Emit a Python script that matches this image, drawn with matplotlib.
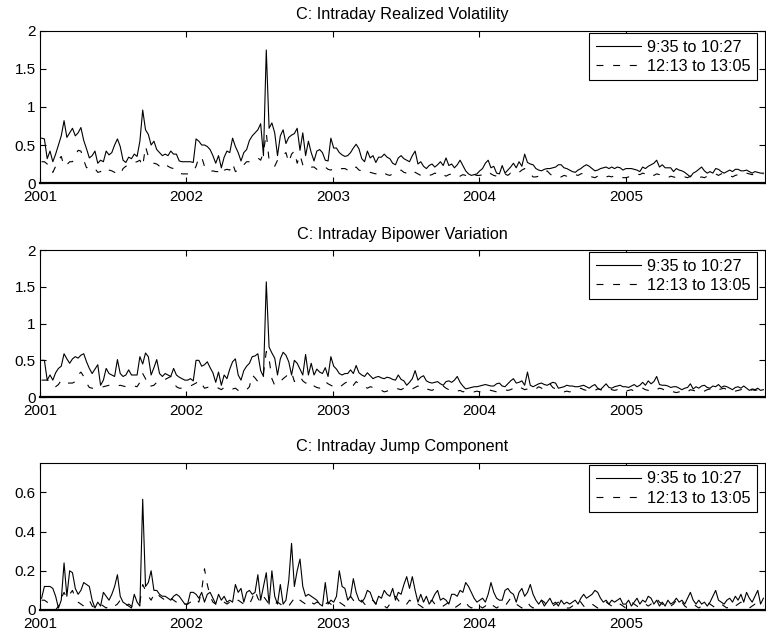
import numpy as np
import pandas as pd
import matplotlib
matplotlib.use('Agg')
import matplotlib.pyplot as plt
import matplotlib.dates as mdates

plt.rcParams['font.family'] = ['Liberation Sans', 'DejaVu Sans']
plt.rcParams['font.size'] = 11
plt.rcParams['lines.scale_dashes'] = False

# weekly observations, Jan 2001 - Dec 2005
weeks = pd.date_range('2001-01-05', periods=258, freq='W-FRI')
years = [2001, 2002, 2003, 2004, 2005]
labels = ['9:35 to 10:27', '12:13 to 13:05']

# realized volatility
rv_open = [0.59, 0.58, 0.32, 0.42, 0.28, 0.38, 0.50, 0.62, 0.82, 0.60, 0.66, 0.72, 0.62, 0.66, 0.73, 0.56, 0.45, 0.33, 0.36, 0.42,
           0.26, 0.30, 0.28, 0.42, 0.37, 0.40, 0.50, 0.58, 0.48, 0.30, 0.27, 0.34, 0.32, 0.38, 0.35, 0.55, 0.96, 0.70, 0.64, 0.50,
           0.55, 0.44, 0.40, 0.36, 0.38, 0.36, 0.42, 0.38, 0.38, 0.29, 0.28, 0.28,
           0.28, 0.28, 0.27, 0.58, 0.55, 0.50, 0.50, 0.48, 0.44, 0.36, 0.26, 0.36, 0.20, 0.34, 0.42, 0.40, 0.59, 0.48, 0.40, 0.29,
           0.40, 0.44, 0.56, 0.62, 0.66, 0.70, 0.78, 0.36, 1.75, 0.72, 0.79, 0.66, 0.36, 0.62, 0.70, 0.52, 0.60, 0.63, 0.65, 0.72,
           0.43, 0.66, 0.36, 0.55, 0.40, 0.29, 0.42, 0.44, 0.40, 0.30, 0.29, 0.59,
           0.46, 0.46, 0.40, 0.37, 0.35, 0.36, 0.40, 0.46, 0.51, 0.45, 0.32, 0.28, 0.42, 0.33, 0.36, 0.27, 0.34, 0.34, 0.38, 0.34,
           0.32, 0.26, 0.24, 0.33, 0.36, 0.32, 0.30, 0.28, 0.36, 0.42, 0.25, 0.28, 0.22, 0.19, 0.23, 0.25, 0.21, 0.24, 0.28, 0.23,
           0.33, 0.23, 0.25, 0.20, 0.24, 0.30, 0.23, 0.16, 0.12, 0.10, 0.11, 0.12,
           0.16, 0.19, 0.26, 0.30, 0.20, 0.22, 0.13, 0.12, 0.23, 0.13, 0.17, 0.21, 0.26, 0.20, 0.28, 0.22, 0.38, 0.27, 0.25, 0.24,
           0.19, 0.17, 0.16, 0.18, 0.19, 0.19, 0.20, 0.21, 0.24, 0.24, 0.20, 0.19, 0.17, 0.15, 0.14, 0.17, 0.19, 0.22, 0.24, 0.22,
           0.19, 0.16, 0.17, 0.19, 0.20, 0.21, 0.19, 0.21, 0.19, 0.21, 0.20, 0.17,
           0.19, 0.19, 0.19, 0.18, 0.17, 0.15, 0.21, 0.19, 0.22, 0.24, 0.26, 0.30, 0.21, 0.24, 0.20, 0.20, 0.20, 0.15, 0.19, 0.17,
           0.16, 0.14, 0.11, 0.08, 0.13, 0.15, 0.18, 0.21, 0.16, 0.13, 0.15, 0.13, 0.19, 0.18, 0.15, 0.13, 0.15, 0.17, 0.15, 0.18,
           0.18, 0.16, 0.16, 0.17, 0.15, 0.13, 0.15, 0.14, 0.13, 0.13]
rv_mid = [0.28, 0.28, 0.25, 0.24, 0.14, 0.22, 0.30, 0.35, 0.22, 0.24, 0.28, 0.28, 0.36, 0.43, 0.42, 0.30, 0.20, 0.22, 0.20, 0.19,
          0.14, 0.15, 0.19, 0.20, 0.17, 0.16, 0.14, 0.13, 0.11, 0.19, 0.22, 0.24, 0.26, 0.27, 0.28, 0.30, 0.22, 0.48, 0.35, 0.30,
          0.26, 0.25, 0.22, 0.21, 0.25, 0.22, 0.20, 0.19, 0.18, 0.13, 0.12, 0.12,
          0.12, 0.14, 0.15, 0.22, 0.34, 0.34, 0.22, 0.17, 0.15, 0.16, 0.15, 0.15, 0.21, 0.17, 0.18, 0.17, 0.26, 0.15, 0.17, 0.19,
          0.24, 0.28, 0.28, 0.30, 0.31, 0.33, 0.30, 0.40, 0.66, 0.30, 0.26, 0.22, 0.30, 0.34, 0.37, 0.40, 0.27, 0.38, 0.42, 0.26,
          0.37, 0.24, 0.20, 0.22, 0.21, 0.21, 0.18, 0.20, 0.19, 0.21, 0.18, 0.17,
          0.19, 0.20, 0.18, 0.19, 0.19, 0.17, 0.15, 0.19, 0.21, 0.17, 0.16, 0.17, 0.15, 0.14, 0.13, 0.12, 0.14, 0.15, 0.13, 0.11,
          0.10, 0.12, 0.14, 0.15, 0.17, 0.14, 0.13, 0.15, 0.17, 0.14, 0.12, 0.10, 0.09, 0.08, 0.10, 0.11, 0.13, 0.12, 0.14, 0.11,
          0.09, 0.11, 0.12, 0.10, 0.08, 0.09, 0.11, 0.10, 0.08, 0.09, 0.11, 0.10,
          0.10, 0.11, 0.13, 0.15, 0.12, 0.10, 0.09, 0.08, 0.11, 0.12, 0.10, 0.13, 0.11, 0.12, 0.14, 0.17, 0.19, 0.14, 0.12, 0.08,
          0.08, 0.09, 0.10, 0.13, 0.16, 0.12, 0.09, 0.08, 0.07, 0.08, 0.10, 0.09, 0.11, 0.12, 0.11, 0.10, 0.12, 0.13, 0.11, 0.09,
          0.08, 0.07, 0.09, 0.11, 0.10, 0.08, 0.09, 0.08, 0.10, 0.09, 0.08, 0.07,
          0.07, 0.08, 0.09, 0.10, 0.12, 0.11, 0.13, 0.12, 0.14, 0.12, 0.10, 0.12, 0.11, 0.09, 0.08, 0.07, 0.09, 0.08, 0.07, 0.06,
          0.07, 0.08, 0.07, 0.09, 0.10, 0.09, 0.07, 0.08, 0.07, 0.09, 0.10, 0.11, 0.12, 0.10, 0.12, 0.13, 0.11, 0.10, 0.08, 0.10,
          0.11, 0.12, 0.14, 0.13, 0.12, 0.11, 0.12, 0.11, 0.12, 0.12]

# bipower variation
bv_open = [0.50, 0.50, 0.23, 0.30, 0.23, 0.33, 0.39, 0.42, 0.59, 0.52, 0.46, 0.52, 0.55, 0.53, 0.57, 0.59, 0.48, 0.39, 0.32, 0.38,
           0.44, 0.16, 0.23, 0.39, 0.32, 0.30, 0.28, 0.51, 0.32, 0.28, 0.30, 0.37, 0.30, 0.30, 0.30, 0.55, 0.45, 0.60, 0.55, 0.30,
           0.40, 0.51, 0.32, 0.28, 0.32, 0.30, 0.28, 0.39, 0.30, 0.27, 0.25, 0.23,
           0.23, 0.25, 0.22, 0.50, 0.50, 0.42, 0.44, 0.48, 0.40, 0.33, 0.20, 0.34, 0.16, 0.30, 0.25, 0.38, 0.48, 0.52, 0.30, 0.23,
           0.36, 0.42, 0.46, 0.55, 0.56, 0.59, 0.36, 0.28, 1.57, 0.68, 0.60, 0.53, 0.30, 0.52, 0.61, 0.57, 0.48, 0.30, 0.50, 0.46,
           0.38, 0.30, 0.58, 0.30, 0.46, 0.30, 0.38, 0.34, 0.32, 0.40, 0.28, 0.55,
           0.42, 0.38, 0.32, 0.30, 0.32, 0.32, 0.37, 0.32, 0.43, 0.33, 0.30, 0.28, 0.33, 0.29, 0.25, 0.27, 0.28, 0.26, 0.25, 0.27,
           0.26, 0.24, 0.23, 0.30, 0.24, 0.22, 0.16, 0.20, 0.25, 0.36, 0.23, 0.27, 0.29, 0.22, 0.20, 0.19, 0.20, 0.21, 0.18, 0.16,
           0.21, 0.22, 0.20, 0.23, 0.28, 0.20, 0.15, 0.11, 0.12, 0.13, 0.14, 0.14,
           0.15, 0.16, 0.17, 0.16, 0.15, 0.15, 0.18, 0.19, 0.15, 0.14, 0.18, 0.22, 0.25, 0.19, 0.20, 0.22, 0.16, 0.34, 0.16, 0.14,
           0.16, 0.18, 0.19, 0.17, 0.16, 0.18, 0.20, 0.19, 0.12, 0.13, 0.14, 0.16, 0.15, 0.15, 0.14, 0.14, 0.15, 0.16, 0.14, 0.12,
           0.15, 0.17, 0.12, 0.10, 0.14, 0.18, 0.13, 0.12, 0.14, 0.15, 0.16, 0.14,
           0.14, 0.13, 0.15, 0.17, 0.14, 0.16, 0.20, 0.16, 0.22, 0.18, 0.21, 0.28, 0.17, 0.16, 0.16, 0.15, 0.13, 0.14, 0.14, 0.12,
           0.10, 0.12, 0.13, 0.18, 0.11, 0.14, 0.12, 0.15, 0.16, 0.13, 0.12, 0.15, 0.14, 0.17, 0.13, 0.15, 0.14, 0.12, 0.10, 0.13,
           0.14, 0.12, 0.15, 0.12, 0.09, 0.11, 0.10, 0.12, 0.09, 0.10]
bv_mid = [0.23, 0.23, 0.23, 0.22, 0.20, 0.14, 0.17, 0.23, 0.20, 0.19, 0.19, 0.19, 0.21, 0.30, 0.34, 0.28, 0.19, 0.13, 0.12, 0.12,
          0.12, 0.13, 0.14, 0.15, 0.16, 0.15, 0.14, 0.15, 0.16, 0.15, 0.14, 0.15, 0.16, 0.15, 0.14, 0.20, 0.32, 0.25, 0.14, 0.15,
          0.16, 0.20, 0.22, 0.23, 0.24, 0.26, 0.28, 0.20, 0.14, 0.12, 0.12, 0.13,
          0.14, 0.15, 0.17, 0.19, 0.23, 0.18, 0.12, 0.13, 0.14, 0.15, 0.14, 0.12, 0.10, 0.13, 0.14, 0.12, 0.11, 0.12, 0.09, 0.08,
          0.07, 0.10, 0.14, 0.30, 0.26, 0.21, 0.28, 0.32, 0.62, 0.52, 0.25, 0.16, 0.18, 0.21, 0.25, 0.28, 0.32, 0.34, 0.21, 0.26,
          0.28, 0.22, 0.19, 0.20, 0.21, 0.15, 0.13, 0.12, 0.16, 0.21, 0.18, 0.16,
          0.14, 0.12, 0.13, 0.16, 0.19, 0.21, 0.14, 0.16, 0.21, 0.18, 0.16, 0.14, 0.12, 0.14, 0.13, 0.12, 0.10, 0.09, 0.07, 0.08,
          0.10, 0.11, 0.12, 0.11, 0.10, 0.12, 0.14, 0.12, 0.11, 0.13, 0.15, 0.12, 0.10, 0.11, 0.10, 0.09, 0.11, 0.12, 0.13, 0.15,
          0.12, 0.10, 0.08, 0.07, 0.08, 0.09, 0.07, 0.08, 0.07, 0.08, 0.07, 0.08,
          0.07, 0.08, 0.09, 0.10, 0.09, 0.08, 0.07, 0.08, 0.09, 0.10, 0.09, 0.10, 0.12, 0.11, 0.14, 0.12, 0.10, 0.11, 0.10, 0.09,
          0.11, 0.14, 0.12, 0.11, 0.14, 0.18, 0.13, 0.11, 0.09, 0.08, 0.07, 0.08, 0.07, 0.08, 0.09, 0.10, 0.12, 0.10, 0.09, 0.07,
          0.08, 0.09, 0.11, 0.10, 0.09, 0.10, 0.12, 0.10, 0.09, 0.10, 0.08, 0.09,
          0.08, 0.09, 0.10, 0.08, 0.09, 0.10, 0.12, 0.10, 0.09, 0.07, 0.08, 0.10, 0.12, 0.11, 0.09, 0.10, 0.08, 0.07, 0.06, 0.07,
          0.08, 0.09, 0.07, 0.10, 0.09, 0.08, 0.06, 0.07, 0.08, 0.10, 0.11, 0.09, 0.08, 0.10, 0.11, 0.12, 0.10, 0.08, 0.07, 0.08,
          0.09, 0.10, 0.11, 0.09, 0.08, 0.10, 0.09, 0.10, 0.11, 0.10]

# jump component
jump_open = [0.06, 0.12, 0.12, 0.12, 0.11, 0.07, 0.01, 0.05, 0.24, 0.07, 0.20, 0.19, 0.11, 0.08, 0.10, 0.14, 0.13, 0.12, 0.05, 0.01,
             0.04, 0.02, 0.09, 0.07, 0.05, 0.08, 0.12, 0.18, 0.07, 0.04, 0.03, 0.02, 0.01, 0.08, 0.04, 0.02, 0.565, 0.12, 0.14, 0.20,
             0.10, 0.10, 0.08, 0.07, 0.07, 0.06, 0.05, 0.07, 0.08, 0.07, 0.05, 0.03,
             0.03, 0.09, 0.09, 0.08, 0.06, 0.09, 0.04, 0.08, 0.09, 0.06, 0.03, 0.08, 0.05, 0.07, 0.04, 0.05, 0.04, 0.13, 0.09, 0.11,
             0.04, 0.09, 0.10, 0.08, 0.09, 0.18, 0.05, 0.12, 0.19, 0.03, 0.20, 0.07, 0.03, 0.13, 0.03, 0.05, 0.15, 0.34, 0.12, 0.20,
             0.26, 0.12, 0.07, 0.08, 0.07, 0.06, 0.05, 0.03, 0.02, 0.14, 0.03, 0.05,
             0.04, 0.07, 0.20, 0.12, 0.11, 0.05, 0.07, 0.16, 0.09, 0.05, 0.04, 0.06, 0.10, 0.09, 0.05, 0.03, 0.07, 0.06, 0.10, 0.08,
             0.07, 0.11, 0.05, 0.09, 0.08, 0.13, 0.17, 0.11, 0.17, 0.10, 0.04, 0.08, 0.04, 0.07, 0.03, 0.05, 0.08, 0.10, 0.05, 0.06,
             0.05, 0.03, 0.08, 0.08, 0.07, 0.10, 0.09, 0.14, 0.12, 0.09, 0.06, 0.04,
             0.05, 0.06, 0.04, 0.08, 0.14, 0.09, 0.06, 0.05, 0.05, 0.10, 0.11, 0.09, 0.08, 0.04, 0.09, 0.11, 0.07, 0.09, 0.13, 0.08,
             0.05, 0.03, 0.05, 0.02, 0.04, 0.06, 0.03, 0.04, 0.02, 0.05, 0.03, 0.04, 0.03, 0.04, 0.05, 0.03, 0.06, 0.08, 0.06, 0.07,
             0.08, 0.10, 0.09, 0.06, 0.04, 0.05, 0.03, 0.05, 0.04, 0.05, 0.06, 0.03,
             0.03, 0.05, 0.02, 0.04, 0.06, 0.03, 0.05, 0.04, 0.07, 0.06, 0.03, 0.05, 0.02, 0.04, 0.02, 0.05, 0.03, 0.04, 0.06, 0.04,
             0.05, 0.03, 0.06, 0.09, 0.05, 0.03, 0.05, 0.03, 0.04, 0.02, 0.04, 0.07, 0.10, 0.05, 0.04, 0.03, 0.05, 0.06, 0.04, 0.07,
             0.05, 0.08, 0.04, 0.09, 0.06, 0.04, 0.07, 0.10, 0.03, 0.06]
jump_mid = [0.05, 0.05, 0.04, 0.03, 0.01, 0.00, 0.02, 0.06, 0.09, 0.06, 0.08, 0.10, 0.06, 0.04, 0.03, 0.02, 0.03, 0.05, 0.02, 0.01,
            0.02, 0.03, 0.02, 0.01, 0.02, 0.03, 0.02, 0.03, 0.05, 0.03, 0.02, 0.03, 0.02, 0.01, 0.02, 0.04, 0.13, 0.10, 0.07, 0.05,
            0.08, 0.09, 0.07, 0.06, 0.05, 0.07, 0.06, 0.05, 0.04, 0.03, 0.02, 0.03,
            0.03, 0.04, 0.05, 0.06, 0.04, 0.10, 0.21, 0.13, 0.07, 0.04, 0.03, 0.04, 0.05, 0.04, 0.03, 0.04, 0.05, 0.04, 0.05, 0.04,
            0.03, 0.02, 0.03, 0.06, 0.10, 0.06, 0.04, 0.07, 0.05, 0.03, 0.02, 0.03, 0.04, 0.03, 0.02, 0.01, 0.02, 0.04, 0.06, 0.07,
            0.05, 0.04, 0.03, 0.05, 0.04, 0.03, 0.04, 0.03, 0.02, 0.03, 0.04, 0.03,
            0.02, 0.03, 0.04, 0.03, 0.02, 0.04, 0.07, 0.05, 0.03, 0.04, 0.05, 0.03, 0.02, 0.04, 0.05, 0.03, 0.04, 0.03, 0.02, 0.01,
            0.03, 0.05, 0.07, 0.05, 0.03, 0.02, 0.03, 0.05, 0.04, 0.02, 0.03, 0.02, 0.01, 0.02, 0.04, 0.05, 0.03, 0.02, 0.01, 0.02,
            0.03, 0.04, 0.02, 0.01, 0.02, 0.03, 0.05, 0.04, 0.02, 0.01, 0.02, 0.03,
            0.02, 0.01, 0.02, 0.04, 0.03, 0.02, 0.01, 0.02, 0.03, 0.02, 0.04, 0.06, 0.05, 0.03, 0.02, 0.01, 0.03, 0.04, 0.02, 0.01,
            0.02, 0.03, 0.05, 0.04, 0.02, 0.01, 0.02, 0.03, 0.04, 0.03, 0.02, 0.01, 0.01, 0.02, 0.03, 0.05, 0.04, 0.02, 0.01, 0.02,
            0.03, 0.02, 0.01, 0.02, 0.03, 0.04, 0.03, 0.02, 0.01, 0.02, 0.03, 0.02,
            0.01, 0.02, 0.04, 0.03, 0.02, 0.01, 0.02, 0.03, 0.02, 0.03, 0.05, 0.06, 0.04, 0.03, 0.02, 0.01, 0.02, 0.03, 0.05, 0.06,
            0.04, 0.02, 0.01, 0.02, 0.03, 0.02, 0.01, 0.02, 0.03, 0.04, 0.03, 0.02, 0.01, 0.02, 0.03, 0.02, 0.01, 0.02, 0.03, 0.02,
            0.03, 0.04, 0.03, 0.02, 0.01, 0.02, 0.03, 0.02, 0.03, 0.02]

panels = [
    ('C: Intraday Realized Volatility', rv_open, rv_mid, 2.0, [0, 0.5, 1, 1.5, 2]),
    ('C: Intraday Bipower Variation', bv_open, bv_mid, 2.0, [0, 0.5, 1, 1.5, 2]),
    ('C: Intraday Jump Component', jump_open, jump_mid, 0.75, [0, 0.2, 0.4, 0.6]),
]

# axes boxes in figure fractions (left, bottom, width, height)
boxes = [[0.0522, 0.7118, 0.9465, 0.2394],
         [0.0522, 0.3748, 0.9465, 0.2310],
         [0.0522, 0.0394, 0.9465, 0.2315]]

fig = plt.figure(figsize=(7.66, 6.35), dpi=100)

for box, (title, s1, s2, ytop, yt) in zip(boxes, panels):
    ax = fig.add_axes(box)
    ax.plot(weeks, s1, color='black', lw=0.8, label=labels[0])
    ax.plot(weeks, s2, color='black', lw=0.8, dashes=(5, 7), label=labels[1])
    ax.set_xlim(pd.Timestamp('2001-01-01'), pd.Timestamp('2005-12-13'))
    ax.set_ylim(0, ytop)
    ax.set_yticks(yt)
    ax.set_yticklabels(['%g' % v for v in yt])
    ax.set_xticks([pd.Timestamp('%d-01-01' % y) for y in years])
    ax.xaxis.set_major_formatter(mdates.DateFormatter('%Y'))
    ax.tick_params(direction='in', length=4, width=0.8, top=True, right=True,
                   labelsize=11)
    ax.tick_params(axis='x', pad=5)
    ax.tick_params(axis='y', pad=3)
    for side in ['top', 'left', 'right']:
        ax.spines[side].set_linewidth(0.8)
    ax.spines['bottom'].set_linewidth(1.6)
    ax.set_title(title, fontsize=11.7, pad=8.5)
    leg = ax.legend(loc='upper right', bbox_to_anchor=(1 - 8 / 726, 1 - 2 / 150),
                    borderaxespad=0, fancybox=False, framealpha=1, edgecolor='black',
                    fontsize=11.7, handlelength=2.8, handletextpad=0.37,
                    borderpad=0.4, labelspacing=0.25)
    leg.get_frame().set_linewidth(0.8)

fig.savefig('out.png', dpi=100)
